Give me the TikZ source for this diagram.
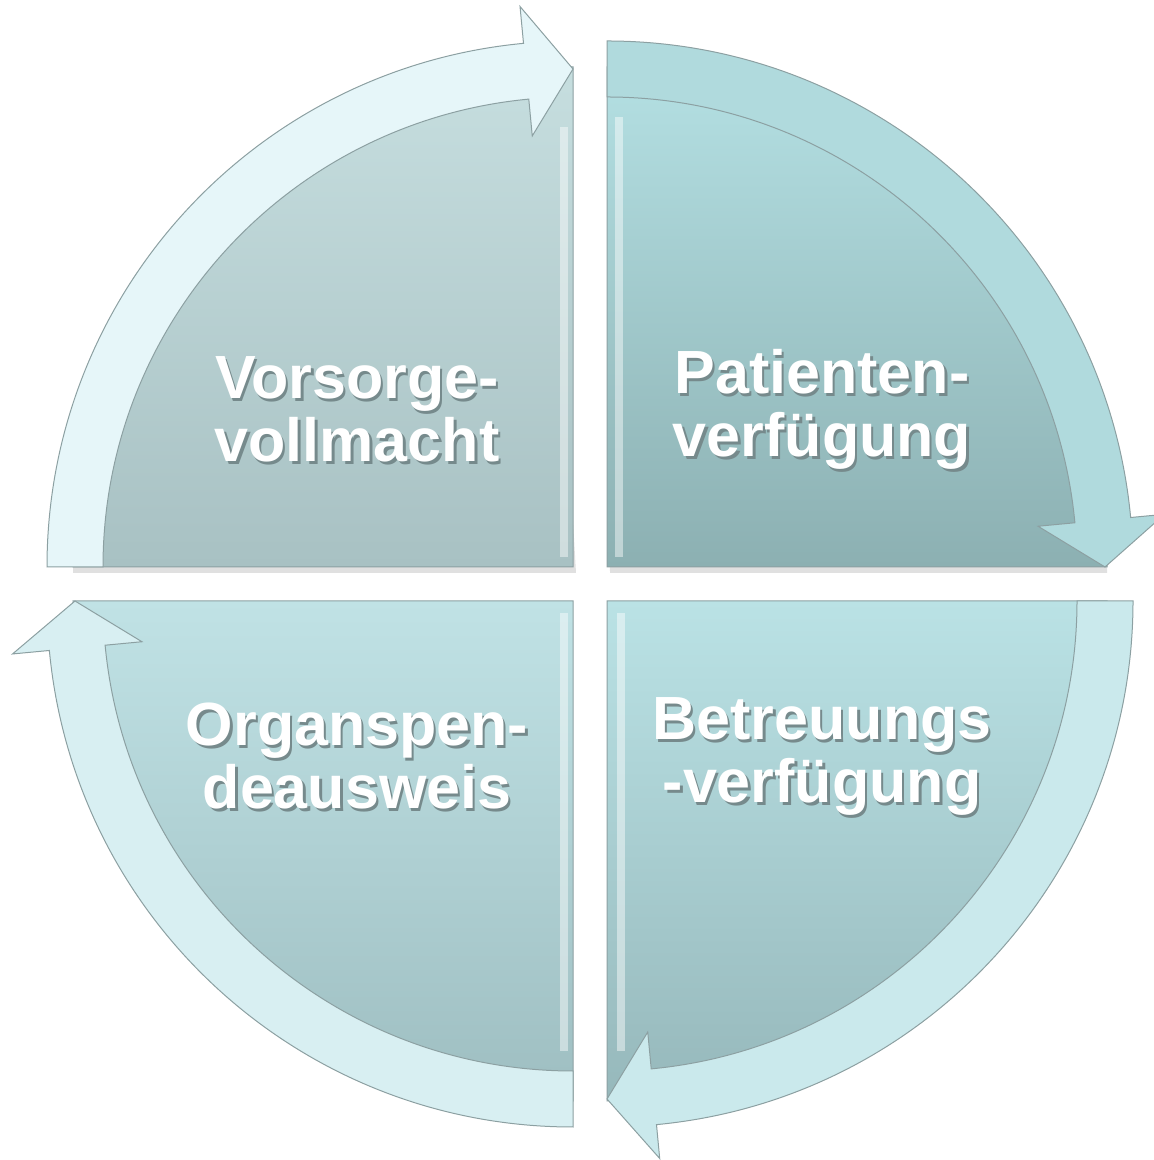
\documentclass[tikz,border=0pt]{standalone}
\usepackage{fontspec}
\setmainfont{Liberation Sans}
\definecolor{tlTop}{RGB}{198,222,223}
\definecolor{tlBot}{RGB}{168,193,195}
\definecolor{trTop}{RGB}{180,224,227}
\definecolor{trBot}{RGB}{140,176,178}
\definecolor{blTop}{RGB}{192,226,229}
\definecolor{blBot}{RGB}{158,190,193}
\definecolor{brTop}{RGB}{186,226,229}
\definecolor{brBot}{RGB}{150,184,187}
\definecolor{tlArrow}{RGB}{230,246,249}
\definecolor{trArrow}{RGB}{176,218,221}
\definecolor{brArrow}{RGB}{202,233,236}
\definecolor{blArrow}{RGB}{216,239,242}
\definecolor{edgeGray}{RGB}{140,160,162}
\definecolor{shadowc}{RGB}{118,138,140}
\newcommand{\shtext}[1]{\makebox[0pt][l]{\kern1.2pt\raisebox{-1.5pt}{\textcolor{shadowc}{#1}}}#1}
\begin{document}
\begin{tikzpicture}[x=0.5pt,y=0.5pt,
  wedgebox/.style={draw=edgeGray, line width=0.5pt},
  arrowband/.style={draw=edgeGray, line width=0.5pt},
  dropshadow/.style={fill=black, opacity=0.12},
  bevel/.style={draw=white, opacity=0.45, line width=4pt},
  lbl/.style={text=white, font=\fontsize{30.5}{31.5}\selectfont\bfseries, align=center, inner sep=0pt}]
\useasboundingbox (0,0) rectangle (1153,1160);

% ---------- top left ----------
\begin{scope}[shift={(573,593)}]
  \fill[dropshadow] (3,-6) -- (93:500) arc[start angle=93,end angle=180,radius=500] -- ++(0,-6) -- cycle;
  \shadedraw[top color=tlTop, bottom color=tlBot, wedgebox] (0,0) -- (90:500) arc[start angle=90,end angle=180,radius=500] -- cycle;
  \draw[bevel] (-9,10) -- (-9,440);
  \fill[tlArrow, arrowband] (180:470) -- (180:526) arc[start angle=180,end angle=95.4,radius=526]
    -- (95.4:563) -- (90:498) -- (95.4:433) -- (95.4:470) arc[start angle=95.4,end angle=180,radius=470] -- cycle;
\end{scope}

% ---------- top right ----------
\begin{scope}[shift={(607,593)}]
  \fill[dropshadow] (3,-6) -- (90:500) arc[start angle=90,end angle=0,radius=500] -- ++(0,-6) -- cycle;
  \shadedraw[top color=trTop, bottom color=trBot, wedgebox] (0,0) -- (90:500) arc[start angle=90,end angle=0,radius=500] -- cycle;
  \draw[bevel] (12,10) -- (12,450);
  \fill[trArrow, arrowband] (90:470) -- (90:526) arc[start angle=90,end angle=5.4,radius=526]
    -- (5.4:560) -- (0:498) -- (5.4:433) -- (5.4:470) arc[start angle=5.4,end angle=90,radius=470] -- cycle;
\end{scope}

% ---------- bottom right ----------
\begin{scope}[shift={(607,559)}]
  \shadedraw[top color=brTop, bottom color=brBot, wedgebox] (0,0) -- (0:500) arc[start angle=0,end angle=-90,radius=500] -- cycle;
  \draw[bevel] (14,-12) -- (14,-450);
  \fill[brArrow, arrowband] (0:470) -- (0:526) arc[start angle=0,end angle=-84.6,radius=526]
    -- (-84.6:560) -- (-90:498) -- (-84.6:433) -- (-84.6:470) arc[start angle=-84.6,end angle=0,radius=470] -- cycle;
\end{scope}

% ---------- bottom left ----------
\begin{scope}[shift={(573,559)}]
  \shadedraw[top color=blTop, bottom color=blBot, wedgebox] (0,0) -- (-90:500) arc[start angle=-90,end angle=-180,radius=500] -- cycle;
  \draw[bevel] (-9,-12) -- (-9,-450);
  \fill[blArrow, arrowband] (-90:470) -- (-90:526) arc[start angle=-90,end angle=-174.6,radius=526]
    -- (-174.6:563) -- (-180:498) -- (-174.6:433) -- (-174.6:470) arc[start angle=-174.6,end angle=-90,radius=470] -- cycle;
\end{scope}

% ---------- labels ----------
\node[lbl] (tl) at (357,749) {\shtext{Vorsorge-}\\\shtext{vollmacht}};
\node[lbl] (tr) at (822,749) {\shtext{Patienten-}\\\shtext{verfügung}};
\node[lbl] (bl) at (357,402) {\shtext{Organspen-}\\\shtext{deausweis}};
\node[lbl] (br) at (822,402) {\shtext{Betreuungs}\\\shtext{-verfügung}};
\end{tikzpicture}
\end{document}
